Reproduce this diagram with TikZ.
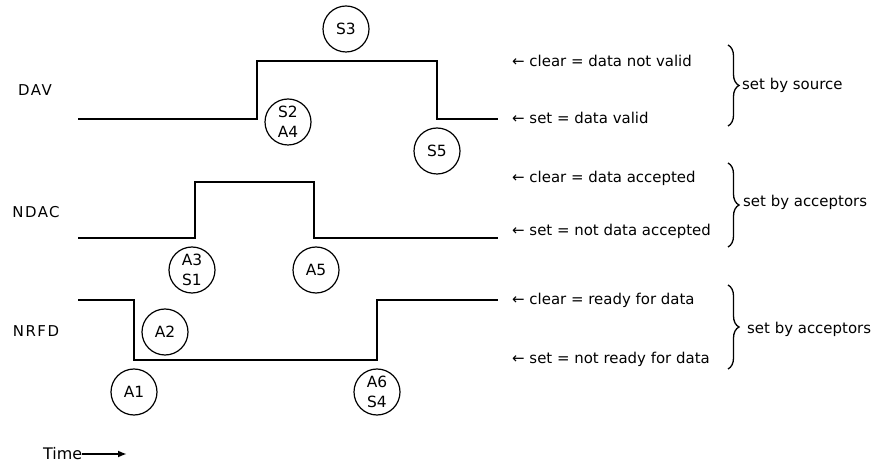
\documentclass[tikz,border=0pt]{standalone}
\usepackage{fontspec}
\setmainfont{DejaVu Sans}
\usetikzlibrary{decorations.pathreplacing,arrows.meta}

\begin{document}
\begin{tikzpicture}[x=1bp,y=-1bp,
    wave/.style={line width=2.8bp,line join=miter},
    evt/.style={draw,circle,line width=1.2bp,minimum size=46bp,inner sep=0pt,align=center,font=\fontsize{15.5}{20}\selectfont},
    sig/.style={font=\fontsize{15}{18}\selectfont\addfontfeature{LetterSpace=10}},
    note/.style={anchor=west,inner sep=0pt,font=\fontsize{15}{18}\selectfont},
    grp/.style={decorate,decoration={brace,amplitude=11bp},line width=1.3bp}]
  \useasboundingbox (0,0) rectangle (878,466);
  % signal names
  \node[sig] (dav) at (35,90) {DAV};
  \node[sig] (ndac) at (36,212) {NDAC};
  \node[sig] (nrfd) at (36,331) {NRFD};
  % waveforms
  \draw[wave] (78,119) -- (257,119) -- (257,61) -- (437,61) -- (437,119) -- (498,119);
  \draw[wave] (78,238) -- (195,238) -- (195,182) -- (314,182) -- (314,238) -- (498,238);
  \draw[wave] (78,300) -- (134,300) -- (134,360) -- (377,360) -- (377,300) -- (498,300);
  % events
  \node[evt] (s3) at (346,29) {S3};
  \node[evt] (s2) at (288,122) {S2\\A4};
  \node[evt] (s5) at (437,151) {S5};
  \node[evt] (a3) at (192,270) {A3\\S1};
  \node[evt] (a5) at (316,270) {A5};
  \node[evt] (a2) at (165,332) {A2};
  \node[evt] (a1) at (134,392) {A1};
  \node[evt] (a6) at (377,392) {A6\\S4};
  % states
  \node[note] (davc) at (512,61) {← clear = data not valid};
  \node[note] (davs) at (512,118) {← set = data valid};
  \node[note] (ndacc) at (512,178) {← clear = data accepted};
  \node[note] (ndacs) at (512,231) {← set = not data accepted};
  \node[note] (nrfdc) at (512,300) {← clear = ready for data};
  \node[note] (nrfds) at (512,359) {← set = not ready for data};
  % groups
  \coordinate (b1t) at (728,45);
  \coordinate (b1b) at (728,126);
  \coordinate (b2t) at (728,163);
  \coordinate (b2b) at (728,247);
  \coordinate (b3t) at (728,285);
  \coordinate (b3b) at (728,369);
  \draw[grp] (b1t) -- (b1b);
  \draw[grp] (b2t) -- (b2b);
  \draw[grp] (b3t) -- (b3b);
  \node[note] (src) at (742,85) {set by source};
  \node[note] (acc1) at (743,202) {set by acceptors};
  \node[note] (acc2) at (747,329) {set by acceptors};
  % time axis
  \node[note,font=\fontsize{16}{19}\selectfont] (time) at (43,454) {Time};
  \coordinate (tend) at (127,454);
  \draw[line width=1.8bp,-{Latex[length=9bp,width=7bp]}] (time.east) -- (tend);
\end{tikzpicture}
\end{document}
